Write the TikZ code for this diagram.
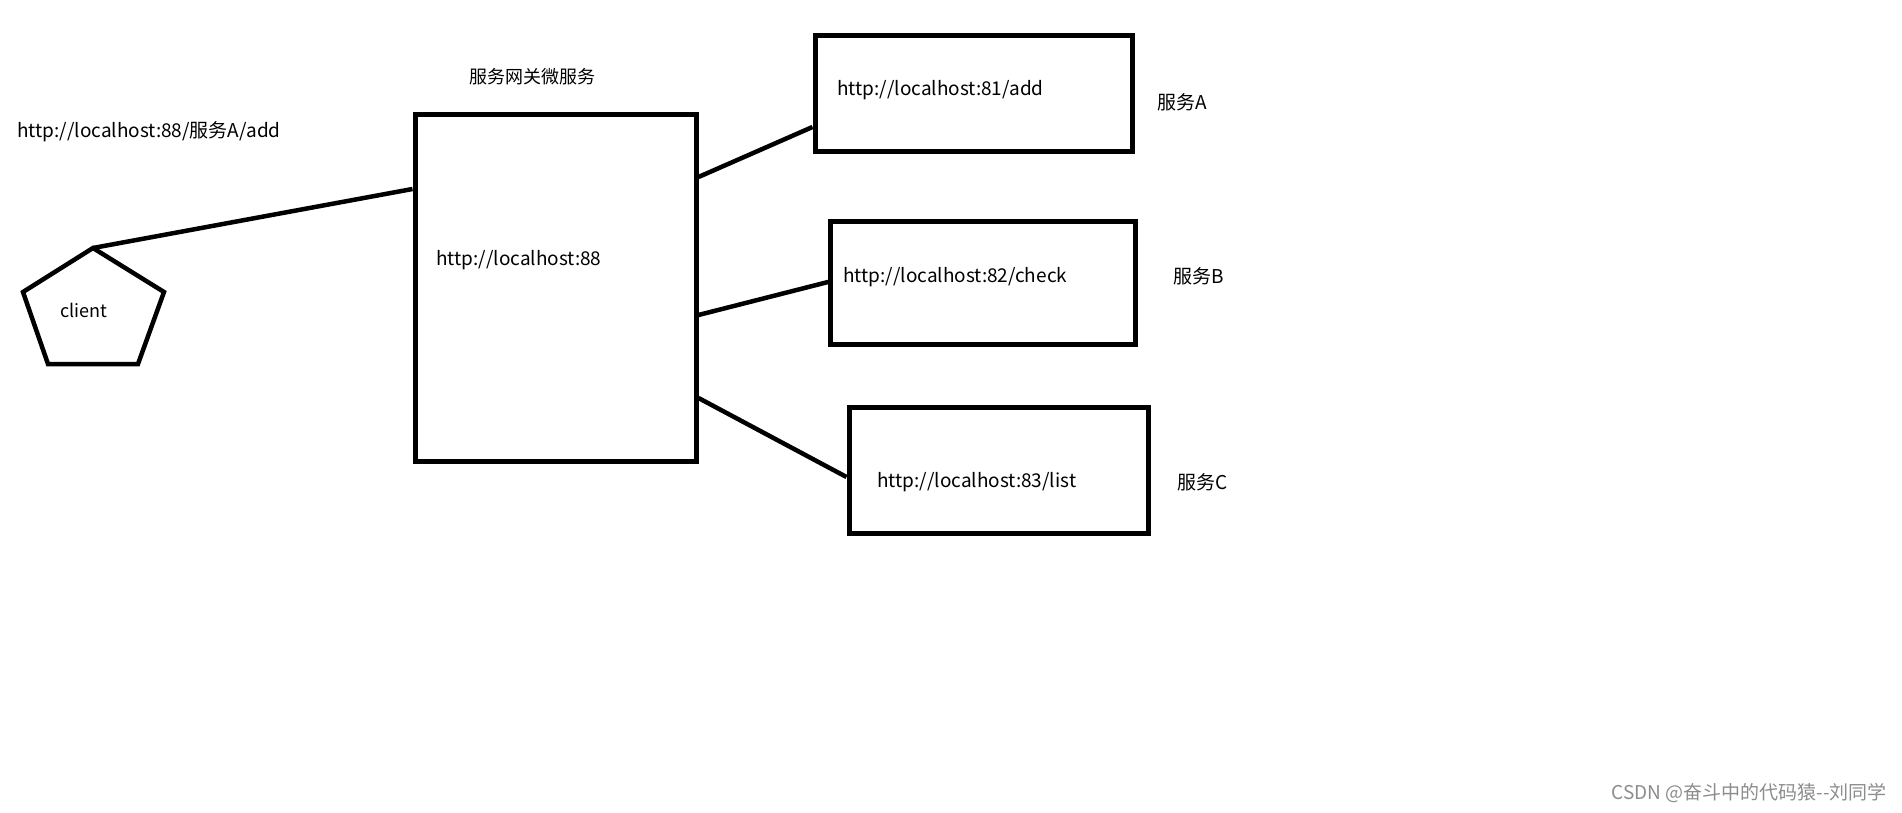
\documentclass[tikz,border=0pt]{standalone}
\usepackage{fontspec}
\setmainfont{Noto Sans CJK SC}
\usetikzlibrary{positioning}

\begin{document}
\begin{tikzpicture}[x=1pt, y=-1pt,
  every node/.style={font=\fontsize{18}{20}\selectfont, inner sep=0pt},
  srvbox/.style={draw, line width=5pt, rectangle},
  link/.style={line width=4.5pt},
  url/.style={anchor=west, font=\fontsize{19}{21}\selectfont}]
  \useasboundingbox (0,0) rectangle (1902,813);

  % client
  \draw[line width=4.5pt, line join=miter] (93,248) coordinate (ctop) -- (164,292) -- (138,364) -- (48,364) -- (23,292) -- cycle;
  \node (client) at (84,310) {client};
  \node[url] (req) at (17,132) {http://localhost:88/服务A/add};

  % gateway
  \node[srvbox, minimum width=281, minimum height=346] (gw) at (555.5,288) {};
  \node (gwtitle) at (532,77) {服务网关微服务};
  \node[url] (gwurl) at (436,260) {http://localhost:88};

  % services
  \node[srvbox, minimum width=317, minimum height=116] (svcA) at (973.5,94) {};
  \node[srvbox, minimum width=305, minimum height=123] (svcB) at (982.5,282.5) {};
  \node[srvbox, minimum width=299, minimum height=126] (svcC) at (998.5,470) {};
  \node[url] (urlA) at (837,90) {http://localhost:81/add};
  \node[url] (urlB) at (843,277) {http://localhost:82/check};
  \node[url] (urlC) at (877,482) {http://localhost:83/list};
  \node[url] (nameA) at (1157,102) {服务A};
  \node[url] (nameB) at (1173,276) {服务B};
  \node[url] (nameC) at (1177,482) {服务C};

  \draw[link] (ctop) -- (gw.west |- 0,189);
  \draw[link] (gw.east |- 0,177) -- (svcA.west |- 0,127);
  \draw[link] (gw.east |- 0,315) -- (832,281);
  \draw[link] (gw.east |- 0,398) -- (svcC.west |- 0,477);

  \node[anchor=east, text=black!45, font=\fontsize{19}{21}\selectfont] (mark) at (1887,793) {CSDN @奋斗中的代码猿-{}-刘同学};
\end{tikzpicture}
\end{document}
